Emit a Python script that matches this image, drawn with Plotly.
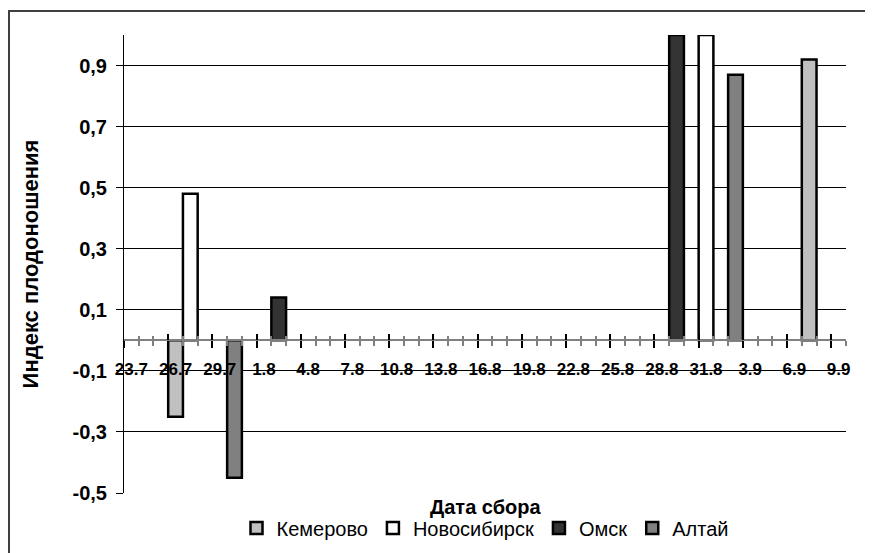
import plotly.graph_objects as go

# Categories: collection dates (day.month), one per day
dates = ["23.7", "24.7", "25.7", "26.7", "27.7", "28.7", "29.7", "30.7", "31.7",
         "1.8", "2.8", "3.8", "4.8", "5.8", "6.8", "7.8", "8.8", "9.8", "10.8",
         "11.8", "12.8", "13.8", "14.8", "15.8", "16.8", "17.8", "18.8", "19.8",
         "20.8", "21.8", "22.8", "23.8", "24.8", "25.8", "26.8", "27.8", "28.8",
         "29.8", "30.8", "31.8", "1.9", "2.9", "3.9", "4.9", "5.9", "6.9", "7.9",
         "8.9", "9.9"]
label_dates = dates[::3]

# Series
kem_dates = ["26.7", "7.9"]
kem_vals = [-0.25, 0.92]
nov_dates = ["27.7", "31.8"]
nov_vals = [0.48, 1.0]
omsk_dates = ["2.8", "29.8"]
omsk_vals = [0.14, 1.0]
alt_dates = ["30.7", "2.9"]
alt_vals = [-0.45, 0.87]

y_ticks = [-0.5, -0.3, -0.1, 0.1, 0.3, 0.5, 0.7, 0.9]
y_ticktext = ["-0,5", "-0,3", "-0,1", "0,1", "0,3", "0,5", "0,7", "0,9"]

FONT = "Liberation Sans, Arial, sans-serif"
OFF = 8  # page body margin offset
W, H = 873 - OFF, 553 - OFF
PL, PR, PT, PB = 124, 846, 35, 493  # target plot-area edges in window pixels
PW, PH = PR - PL, PB - PT

fig = go.Figure()
series = [
    ("Кемерово", kem_dates, kem_vals, "#C0C0C0"),
    ("Новосибирск", nov_dates, nov_vals, "#FFFFFF"),
    ("Омск", omsk_dates, omsk_vals, "#333333"),
    ("Алтай", alt_dates, alt_vals, "#808080"),
]
for name, xs, ys, col in series:
    fig.add_trace(go.Bar(
        x=xs, y=ys, name=name, width=1,
        marker=dict(color=col, line=dict(color="black", width=2.5)),
    ))

# invisible helpers so the tick-only axes are registered
fig.add_trace(go.Scatter(x=[], y=[], xaxis="x2", showlegend=False, hoverinfo="skip"))
fig.add_trace(go.Scatter(x=[], y=[], xaxis="x3", showlegend=False, hoverinfo="skip"))

n = len(dates)
xr = [-0.5, n - 0.5]
yr = [-0.5, 1.0]
zero_pos = (0 - yr[0]) / (yr[1] - yr[0])

fig.update_layout(
    width=W, height=H,
    margin=dict(l=PL - OFF, r=W - (PR - OFF), t=PT - OFF, b=H - (PB - OFF), autoexpand=False),
    paper_bgcolor="white", plot_bgcolor="white",
    barmode="overlay",
    font=dict(family=FONT, color="black"),
    showlegend=True,
    legend=dict(orientation="h", x=0.5, xanchor="center", y=-(528 - PB) / PH, yanchor="middle",
                font=dict(size=20, family=FONT), itemwidth=30, traceorder="normal"),
    xaxis=dict(
        type="category", categoryorder="array", categoryarray=dates, range=xr,
        anchor="free", position=zero_pos, automargin=False,
        showline=False, showgrid=False, zeroline=False, ticks="",
        tickmode="array", tickvals=label_dates, ticktext=label_dates,
        tickfont=dict(size=17, family=FONT, weight="bold"),
        ticklabelstandoff=17, tickangle=0,
    ),
    xaxis2=dict(
        overlaying="x", anchor="free", position=zero_pos, range=xr, automargin=False,
        showline=True, linecolor="#808080", linewidth=2,
        showgrid=False, zeroline=False, showticklabels=False,
        ticks="outside", tick0=-0.5, dtick=3, ticklen=7, tickwidth=1.5, tickcolor="black",
        minor=dict(ticks="outside", tick0=-0.5, dtick=1, ticklen=5, tickwidth=1.5,
                   tickcolor="#808080", showgrid=False),
    ),
    xaxis3=dict(
        overlaying="x", anchor="free", position=zero_pos, range=xr, automargin=False,
        showline=False, showgrid=False, zeroline=False, showticklabels=False,
        ticks="inside", tick0=-0.5, dtick=3, ticklen=6, tickwidth=1.5, tickcolor="black",
        minor=dict(ticks="inside", tick0=-0.5, dtick=1, ticklen=4, tickwidth=1.5,
                   tickcolor="#808080", showgrid=False),
    ),
    yaxis=dict(
        range=yr, tickmode="array", tickvals=y_ticks, ticktext=y_ticktext,
        automargin=False,
        showgrid=True, gridcolor="black", gridwidth=1,
        showline=True, linecolor="black", linewidth=1,
        ticks="outside", ticklen=7, tickcolor="black", tickwidth=1,
        zeroline=False,
        tickfont=dict(size=20, family=FONT, weight="bold"),
        ticklabelstandoff=5,
        title=dict(text="Индекс плодоношения", standoff=27,
                   font=dict(size=22, family=FONT, weight="bold")),
    ),
    shapes=[dict(type="rect", xref="paper", yref="paper",
                 x0=(OFF + 1 - PL) / PW, x1=(872 - PL) / PW,
                 y0=-0.3, y1=(PB - 11) / PH,
                 line=dict(color="#404040", width=2), fillcolor="rgba(0,0,0,0)",
                 layer="below")],
    annotations=[dict(text="Дата сбора", xref="paper", yref="paper",
                      x=0.5, y=-(507 - PB) / PH, xanchor="center", yanchor="middle",
                      showarrow=False, font=dict(size=20, family=FONT, weight="bold"))],
)

fig.write_html("out.html")
